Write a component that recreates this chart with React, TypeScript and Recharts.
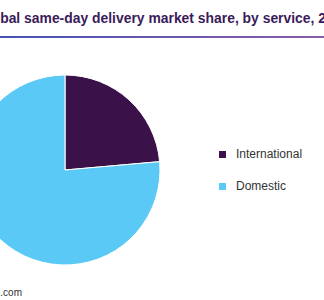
import { PieChart, Pie, Cell, Legend } from "recharts";

const services = ["International", "Domestic"];
const shares = [23.6, 76.4];
const colors = ["#3a1249", "#5bc9f5"];

const data = services.map((name, i) => ({ name, value: shares[i] }));

// legend drawn in data order (recharts sorts its payload by name)
function LegendList() {
  return (
    <ul style={{ listStyle: "none", margin: 0, padding: 0 }}>
      {services.map((name, i) => (
        <li
          key={name}
          style={{
            display: "flex",
            alignItems: "center",
            height: 16,
            marginBottom: i === 0 ? 16 : 0,
          }}
        >
          <span
            style={{
              display: "inline-block",
              width: 7,
              height: 7,
              background: colors[i],
              marginRight: 10,
            }}
          />
          <span style={{ fontSize: 12, color: "#333333" }}>{name}</span>
        </li>
      ))}
    </ul>
  );
}

export default function App() {
  return (
    <div
      style={{
        position: "absolute",
        left: 0,
        top: 0,
        width: 324,
        height: 300,
        overflow: "hidden",
        background: "#fff",
        fontFamily: "'Liberation Sans', Arial, sans-serif",
      }}
    >
      <div
        style={{
          position: "absolute",
          left: -23,
          top: 10,
          whiteSpace: "nowrap",
          fontSize: 13.9,
          fontWeight: 700,
          color: "#3b1b5a",
          lineHeight: "16px",
        }}
      >
        Global same-day delivery market share, by service, 2019
      </div>
      <div
        style={{
          position: "absolute",
          left: 0,
          top: 36,
          width: 324,
          height: 2,
          background: "linear-gradient(to right, #4653b3, #8a5ca8)",
        }}
      />
      <PieChart width={324} height={300} margin={{ top: 0, right: 0, bottom: 0, left: 0 }}>
        <Pie
          data={data}
          dataKey="value"
          nameKey="name"
          cx={65}
          cy={170}
          outerRadius={95}
          startAngle={90}
          endAngle={-270}
          stroke="#ffffff"
          strokeWidth={1}
          isAnimationActive={false}
        >
          {data.map((d, i) => (
            <Cell key={d.name} fill={colors[i]} />
          ))}
        </Pie>
        <Legend
          layout="vertical"
          content={() => <LegendList />}
          wrapperStyle={{ position: "absolute", left: 219, top: 146, width: 100 }}
        />
      </PieChart>
      <div
        style={{
          position: "absolute",
          right: 302,
          top: 287,
          whiteSpace: "nowrap",
          fontSize: 10,
          color: "#333333",
          lineHeight: "12px",
        }}
      >
        Source: www.grandviewresearch.com
      </div>
    </div>
  );
}
